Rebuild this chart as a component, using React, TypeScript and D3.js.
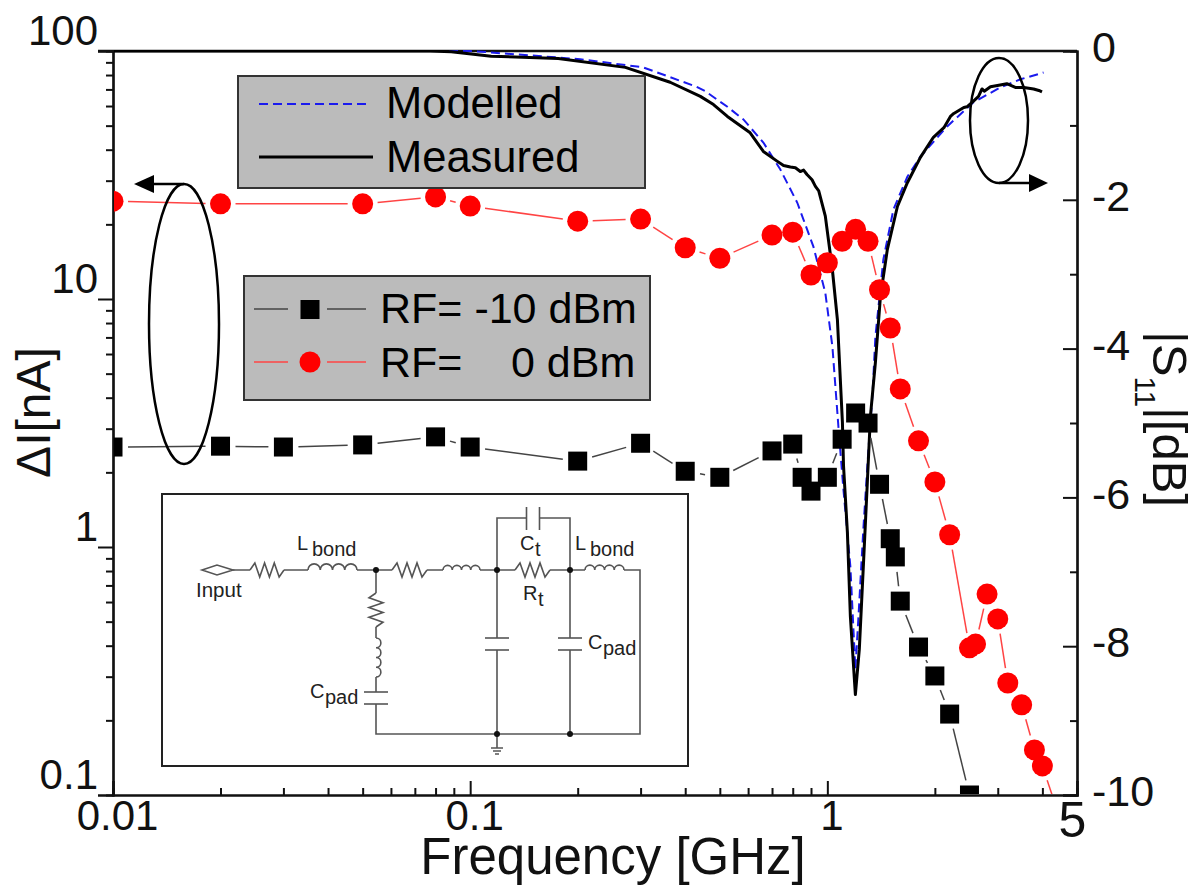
import React, { useEffect, useRef } from 'react'
import * as d3 from 'd3'

// swept S11 curves, frequency in GHz, magnitude in dB
const measuredFreq = [0.01, 0.0773, 0.0885, 0.1145, 0.1764, 0.272, 0.363, 0.441, 0.48, 0.525, 0.608, 0.662, 0.723, 0.754, 0.788, 0.814, 0.84, 0.858, 0.877, 0.906, 0.926, 0.946, 0.987, 1.033, 1.067, 1.102, 1.11, 1.138, 1.16, 1.198, 1.229, 1.261, 1.294, 1.32, 1.363, 1.408, 1.472, 1.571, 1.675, 1.822, 1.981, 2.12, 2.211, 2.26, 2.41, 2.46, 2.57, 2.65, 2.71, 2.75, 2.862, 3.02, 3.18, 3.36, 3.55, 3.78, 3.91, 3.99]
const measuredDb = [0, 0, -0.01, -0.07, -0.1, -0.22, -0.42, -0.61, -0.72, -0.88, -1.1, -1.35, -1.48, -1.54, -1.56, -1.57, -1.62, -1.6, -1.66, -1.73, -1.82, -1.88, -2.22, -2.94, -3.61, -4.99, -5.58, -6.47, -7.6, -8.65, -8.04, -6.93, -5.8, -4.91, -4.19, -3.3, -2.67, -2.09, -1.77, -1.43, -1.16, -1.03, -0.88, -0.84, -0.76, -0.75, -0.67, -0.61, -0.51, -0.54, -0.48, -0.46, -0.44, -0.49, -0.49, -0.51, -0.53, -0.55]
const modelledFreq = [0.01, 0.1, 0.1145, 0.2033, 0.305, 0.43, 0.455, 0.525, 0.582, 0.662, 0.738, 0.824, 0.914, 0.987, 1.033, 1.074, 1.109, 1.16, 1.198, 1.221, 1.261, 1.303, 1.337, 1.363, 1.435, 1.531, 1.675, 1.822, 2.169, 2.564, 3.052, 3.474, 4.03]
const modelledDb = [0, 0, -0.02, -0.11, -0.22, -0.48, -0.54, -0.75, -0.92, -1.23, -1.59, -2.04, -2.63, -3.25, -3.97, -5.05, -5.89, -6.93, -8.31, -7.64, -6.43, -5.36, -4.64, -3.84, -2.8, -2.13, -1.69, -1.42, -1.01, -0.69, -0.49, -0.38, -0.29]

// delta I points, frequency in GHz, current in nA
const rf0Freq = [0.01, 0.02, 0.05, 0.08, 0.1, 0.2, 0.3, 0.4, 0.5, 0.7, 0.8, 0.9, 1, 1.1, 1.2, 1.3, 1.4, 1.5, 1.6, 1.8, 2, 2.2, 2.5, 2.6, 2.8, 3, 3.2, 3.5, 3.8, 4, 4.5]
const rf0Current = [24.8, 24.2, 24.2, 25.8, 23.7, 20.6, 21, 16.1, 14.6, 18.1, 18.6, 12.5, 14, 17.1, 19.1, 17.1, 10.9, 7.64, 4.34, 2.68, 1.83, 1.12, 0.392, 0.406, 0.646, 0.513, 0.283, 0.231, 0.152, 0.131, 0.079]
const rfM10Freq = [0.01, 0.02, 0.03, 0.05, 0.08, 0.1, 0.2, 0.3, 0.4, 0.5, 0.7, 0.8, 0.85, 0.9, 1, 1.1, 1.2, 1.3, 1.4, 1.5, 1.55, 1.6, 1.8, 2, 2.2, 2.5]
const rfM10Current = [2.53, 2.55, 2.53, 2.58, 2.78, 2.53, 2.22, 2.62, 2.02, 1.91, 2.44, 2.6, 1.91, 1.68, 1.91, 2.72, 3.47, 3.16, 1.79, 1.08, 0.912, 0.605, 0.395, 0.302, 0.212, 0.1]

const xMajor = [0.01, 0.1, 1, 5]
const xMinor = [0.02, 0.03, 0.04, 0.05, 0.06, 0.07, 0.08, 0.09, 0.2, 0.3, 0.4, 0.5, 0.6, 0.7, 0.8, 0.9, 2, 3, 4]
const yMajor = [0.1, 1, 10, 100]
const yMinor = [0.2, 0.3, 0.4, 0.5, 0.6, 0.7, 0.8, 0.9, 2, 3, 4, 5, 6, 7, 8, 9, 20, 30, 40, 50, 60, 70, 80, 90]
const dbMajor = [0, -2, -4, -6, -8, -10]
const dbMinor = [-1, -3, -5, -7, -9]

const FONT = '"Liberation Sans", Arial, sans-serif'
const left = 113
const right = 1077
const top = 51
const bottom = 795

const x = d3.scaleLog().domain([0.01, 5]).range([left, right])
const y = d3.scaleLog().domain([0.1, 100]).range([bottom, top])
const yDb = d3.scaleLinear().domain([-10, 0]).range([bottom, top])

// marker lines stop short of each marker, as the plotting program does
const gappedSegments = (xs: number[], ys: number[], gap: number) => {
  const out: number[][] = []
  for (let i = 0; i < xs.length - 1; i++) {
    const x0 = x(xs[i])
    const y0 = y(ys[i])
    const x1 = x(xs[i + 1])
    const y1 = y(ys[i + 1])
    const len = Math.hypot(x1 - x0, y1 - y0)
    if (len <= gap * 2) continue
    const ux = (x1 - x0) / len
    const uy = (y1 - y0) / len
    out.push([x0 + ux * gap, y0 + uy * gap, x1 - ux * gap, y1 - uy * gap])
  }
  return out
}

const dbLine = (fs: number[], dbs: number[]) =>
  d3
    .line<number>()
    .x((f) => x(f))
    .y((_, i) => yDb(dbs[i]))(fs) as string

const Resistor = ({ x0, x1, y0, vertical }: { x0: number; x1: number; y0: number; vertical?: boolean }) => {
  const n = 7
  const pts = d3.range(n + 1).map((i) => {
    const t = x0 + ((x1 - x0) * i) / n
    const off = i === 0 || i === n ? 0 : i % 2 ? -7 : 7
    return vertical ? [y0 + off, t] : [t, y0 + off]
  })
  return <polyline points={pts.join(' ')} fill="none" />
}

const Inductor = ({ x0, x1, y0, vertical }: { x0: number; x1: number; y0: number; vertical?: boolean }) => {
  const n = 4
  const r = (x1 - x0) / n / 2
  let d = vertical ? `M${y0} ${x0}` : `M${x0} ${y0}`
  for (let i = 0; i < n; i++) {
    d += vertical ? ` a${r} ${r} 0 0 1 0 ${r * 2}` : ` a${r} ${r} 0 0 1 ${r * 2} 0`
  }
  return <path d={d} fill="none" />
}

const Cap = ({ cx, y0, y1 }: { cx: number; y0: number; y1: number }) => (
  <g>
    <line x1={cx - 12} x2={cx + 12} y1={y0} y2={y0} />
    <line x1={cx - 12} x2={cx + 12} y1={y1} y2={y1} />
  </g>
)

const Label = ({ tx, ty, main, sub }: { tx: number; ty: number; main: string; sub: string }) => (
  <g fill="#222" stroke="none" fontSize={20}>
    <text x={tx} y={ty}>{main}</text>
    <text x={tx + main.length + 14} y={ty + 6}>{sub}</text>
  </g>
)

const Circuit = () => (
  <g>
    <rect x={162} y={494} width={526} height={272} fill="#fff" stroke="#222" strokeWidth={2} />
    <g stroke="#555" strokeWidth={1.6} fill="none">
      <path d="M202 570 L217 565 L233 570 L217 575 Z" />
      <path d="M233 570 H250 M284 570 H308 M357 570 H392 M427 570 H443 M480 570 H515 M550 570 H585 M624 570 H640 V734 H376 V704 M376 692 V677 M376 638 V627 M376 593 V570" />
      <path d="M497 570 V518 H526 M540 518 H570 V570 M497 570 V638 M497 650 V734 M570 570 V638 M570 650 V734 M497 734 V748" />
      <path d="M491 748 H503 M493 751 H501 M495 754 H499" />
      <path d="M526.5 507 V530 M539.5 507 V530" />
      <Resistor x0={250} x1={284} y0={570} />
      <Inductor x0={308} x1={357} y0={570} />
      <Resistor x0={392} x1={427} y0={570} />
      <Inductor x0={443} x1={480} y0={570} />
      <Resistor x0={515} x1={550} y0={570} />
      <Inductor x0={585} x1={624} y0={570} />
      <Resistor x0={593} x1={627} y0={376} vertical />
      <Inductor x0={638} x1={677} y0={376} vertical />
      <Cap cx={376} y0={692} y1={704} />
      <Cap cx={497} y0={638} y1={650} />
      <Cap cx={570} y0={638} y1={650} />
    </g>
    <g fill="#111">
      {[[376, 570], [497, 570], [570, 570], [497, 734], [570, 734]].map(([cx, cy]) => (
        <circle key={`${cx}-${cy}`} cx={cx} cy={cy} r={3} />
      ))}
    </g>
    <text x={196} y={597} fontSize={20.5} fill="#222">Input</text>
    <Label tx={297} ty={550} main="L" sub="bond" />
    <Label tx={575} ty={550} main="L" sub="bond" />
    <Label tx={520} ty={550} main="C" sub="t" />
    <Label tx={523} ty={600} main="R" sub="t" />
    <Label tx={588} ty={649} main="C" sub="pad" />
    <Label tx={310} ty={698} main="C" sub="pad" />
  </g>
)

const App = () => {
  const axesRef = useRef<SVGGElement>(null)

  useEffect(() => {
    const g = d3.select(axesRef.current)
    g.selectAll('*').remove()

    const style = (sel: any) => {
      sel.selectAll('path.domain').attr('stroke', '#111').attr('stroke-width', 2.2)
      sel.selectAll('.tick line').attr('stroke', '#111').attr('stroke-width', 2)
      sel.selectAll('text').attr('fill', '#111').style('font-family', FONT).style('font-size', '42px')
    }

    const bottomAt = `translate(0,${bottom})`
    g.append('g').attr('transform', bottomAt)
      .call(d3.axisBottom(x).tickValues(xMinor).tickSize(-7).tickFormat(() => ''))
      .call(style)
    const xAxis = g.append('g').attr('transform', bottomAt)
      .call(d3.axisBottom(x).tickValues(xMajor).tickSize(-14).tickPadding(5).tickFormat((d) => String(d)))
      .call(style)
    // the last label is set larger and pulled back inside the frame
    xAxis.selectAll('text')
      .attr('x', (d: any) => (d === 5 ? -5 : 4))
      .attr('y', (d: any) => (d === 5 ? 6 : 5))
      .style('font-size', (d: any) => (d === 5 ? '50px' : '42px'))

    const leftAt = `translate(${left},0)`
    g.append('g').attr('transform', leftAt)
      .call(d3.axisLeft(y).tickValues(yMinor).tickSize(7).tickFormat(() => ''))
      .call(style)
    const yAxis = g.append('g').attr('transform', leftAt)
      .call(d3.axisLeft(y).tickValues(yMajor).tickSize(15).tickPadding(0).tickFormat((d) => String(d)))
      .call(style)
    yAxis.selectAll('text').attr('y', -19.5)

    const rightAt = `translate(${right},0)`
    g.append('g').attr('transform', rightAt)
      .call(d3.axisRight(yDb).tickValues(dbMinor).tickSize(-7).tickFormat(() => ''))
      .call(style)
    const dbAxis = g.append('g').attr('transform', rightAt)
      .call(d3.axisRight(yDb).tickValues(dbMajor).tickSize(-14).tickFormat((d) => String(d)))
      .call(style)
    dbAxis.selectAll('text').attr('x', 15).attr('y', -3).style('font-size', '43px')

    g.append('line').attr('x1', left - 15).attr('x2', right).attr('y1', top).attr('y2', top)
      .attr('stroke', '#111').attr('stroke-width', 2.5)
  }, [])

  return (
    <svg
      width={1199}
      height={886}
      style={{ position: 'absolute', left: 0, top: 0, background: '#fff' }}
      fontFamily={FONT}
    >
      <defs>
        <clipPath id="plot">
          <rect x={left + 1} y={top - 1} width={right - left} height={bottom - top} />
        </clipPath>
      </defs>

      <g ref={axesRef} />

      <g clipPath="url(#plot)">
        <path d={dbLine(modelledFreq, modelledDb)} fill="none" stroke="#1a1aee" strokeWidth={2} strokeDasharray="9 5" />
        <path d={dbLine(measuredFreq, measuredDb)} fill="none" stroke="#000" strokeWidth={3} strokeLinejoin="round" />

        {gappedSegments(rfM10Freq, rfM10Current, 15).map((s, i) => (
          <line key={i} x1={s[0]} y1={s[1]} x2={s[2]} y2={s[3]} stroke="#444" strokeWidth={1.5} />
        ))}
        {gappedSegments(rf0Freq, rf0Current, 15).map((s, i) => (
          <line key={i} x1={s[0]} y1={s[1]} x2={s[2]} y2={s[3]} stroke="#f44" strokeWidth={1.5} />
        ))}
        {rfM10Freq.map((f, i) => (
          <rect key={i} x={x(f) - 9.5} y={y(rfM10Current[i]) - 9.5} width={19} height={19} fill="#000" />
        ))}
        {rf0Freq.map((f, i) => (
          <circle key={i} cx={x(f)} cy={y(rf0Current[i])} r={10.5} fill="#f00" />
        ))}
      </g>

      {/* curve legend */}
      <rect x={238} y={76} width={407} height={112} fill="#bbb" stroke="#333" strokeWidth={2} />
      <line x1={259} x2={368} y1={104} y2={104} stroke="#1a1aee" strokeWidth={2} strokeDasharray="9 5" />
      <line x1={259} x2={373} y1={157} y2={157} stroke="#000" strokeWidth={3} />
      <text x={386} y={118} fontSize={43.5} fill="#000">Modelled</text>
      <text x={386} y={172} fontSize={43.5} fill="#000">Measured</text>

      {/* rf power legend */}
      <rect x={244} y={276} width={406} height={124} fill="#bbb" stroke="#333" strokeWidth={2} />
      <line x1={254} x2={288} y1={309} y2={309} stroke="#444" strokeWidth={1.5} />
      <line x1={327} x2={366} y1={309} y2={309} stroke="#444" strokeWidth={1.5} />
      <rect x={300.5} y={300} width={19} height={19} fill="#000" />
      <text x={380} y={323} fontSize={43} fill="#000">RF= -10 dBm</text>
      <line x1={254} x2={288} y1={362} y2={362} stroke="#f44" strokeWidth={1.5} />
      <line x1={327} x2={366} y1={362} y2={362} stroke="#f44" strokeWidth={1.5} />
      <circle cx={310} cy={362} r={10.5} fill="#f00" />
      <text x={380} y={377} fontSize={43} fill="#000">RF=</text>
      <text x={511} y={377} fontSize={43} fill="#000">0 dBm</text>

      {/* axis pointers */}
      <g fill="none" stroke="#000" strokeWidth={2.5}>
        <ellipse cx={184} cy={324} rx={35} ry={140} />
        <line x1={184} x2={150} y1={184} y2={184} />
        <ellipse cx={999} cy={120.5} rx={29} ry={62.5} />
        <line x1={999} x2={1032} y1={183} y2={183} />
      </g>
      <path d={d3.line()([[134, 184], [154, 175], [154, 193]]) + 'Z'} fill="#000" />
      <path d={d3.line()([[1048, 183], [1029, 174], [1029, 192]]) + 'Z'} fill="#000" />

      <Circuit />

      <text x={613} y={874} fontSize={51} textAnchor="middle" fill="#111">Frequency [GHz]</text>
      <text transform="translate(50,412.5) rotate(-90)" fontSize={48} textAnchor="middle" fill="#111">ΔI[nA]</text>
      <text transform="translate(1153,331) rotate(90)" fontSize={49} fill="#111">
        |S<tspan fontSize={29.5} dy={18}>11</tspan><tspan dy={-18}>|[dB]</tspan>
      </text>
    </svg>
  )
}

export default App
